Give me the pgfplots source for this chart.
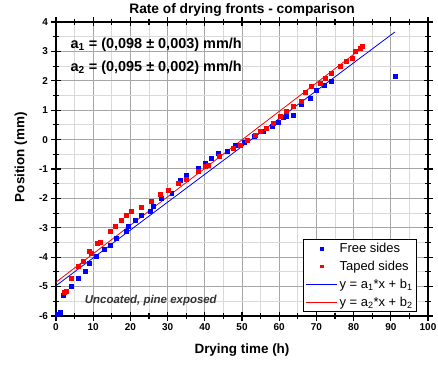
\documentclass[border=0pt]{standalone}
\usepackage{fontspec}
\setmainfont{Liberation Sans}
\usepackage{pgfplots}
\pgfplotsset{compat=1.18}
\pgfplotsset{
  markleg/.style={legend image code/.code={\draw[##1, mark size=1.2pt] plot coordinates {(0.55cm,0cm)};}},
  lineleg/.style={legend image code/.code={\draw[##1] (0cm,0cm) -- (1.1cm,0cm);}},
}
\pgfplotstableread{
x y
0.3 -5.95
1.0 -5.88
2.0 -5.30
4.2 -4.97
6.0 -4.72
7.8 -4.46
8.9 -4.20
10.8 -3.98
13.0 -3.72
14.5 -3.60
16.3 -3.35
18.8 -3.13
19.4 -2.96
21.2 -2.73
23.0 -2.56
25.3 -2.45
26.2 -2.26
28.4 -2.00
31.1 -1.83
33.3 -1.37
35.1 -1.20
38.3 -0.97
40.0 -0.80
41.8 -0.64
43.6 -0.47
45.9 -0.41
48.1 -0.20
50.6 -0.10
53.2 0.10
55.7 0.27
58.0 0.44
59.7 0.60
61.0 0.75
62.0 0.78
63.8 0.84
66.0 1.20
68.3 1.40
70.0 1.69
72.0 1.85
74.0 2.00
91.1 2.17
}\freesides
\pgfplotstableread{
x y
2.2 -5.20
2.8 -5.15
4.2 -4.72
5.9 -4.32
7.3 -4.15
8.9 -3.80
9.5 -3.88
11.0 -3.52
12.0 -3.50
14.5 -3.10
16.0 -2.95
17.5 -2.75
18.8 -2.56
20.3 -2.45
23.0 -2.29
25.7 -2.09
28.0 -1.85
30.2 -1.71
32.9 -1.49
35.1 -1.35
38.3 -1.06
40.0 -0.90
41.0 -0.86
44.0 -0.58
47.6 -0.30
49.5 -0.18
51.5 -0.01
53.5 0.16
54.8 0.27
56.6 0.40
58.4 0.55
60.2 0.78
62.0 0.95
63.7 1.12
66.0 1.29
67.0 1.60
68.7 1.80
71.0 1.91
72.3 2.08
74.1 2.25
76.3 2.48
78.1 2.65
79.5 2.76
80.4 2.99
81.7 3.10
82.2 3.16
}\tapedsides
\begin{document}
\begin{tikzpicture}
\begin{axis}[
  scale only axis, width=372bp, height=294bp,
  xmin=0, xmax=100, ymin=-6, ymax=4,
  xtick={0,10,...,100}, ytick={-6,-5,...,4},
  minor x tick num=1, minor y tick num=1,
  grid=both,
  major grid style={draw=gray!70, line width=1pt},
  minor grid style={draw=gray!30, line width=0.9pt},
  axis line style={line width=1.3pt},
  tick align=center,
  major tick length=9bp, minor tick length=6bp,
  major tick style={black, line width=1.3pt},
  minor tick style={black, line width=1.1pt},
  /pgf/number format/assume math mode=true,
  ticklabel style={font=\bfseries\fontsize{10}{12}\selectfont},
  title={Rate of drying fronts - comparison},
  title style={font=\bfseries\fontsize{13.8}{15}\selectfont, yshift=-4bp},
  xlabel={Drying time (h)},
  ylabel={Position (mm)},
  label style={font=\bfseries\fontsize{13.5}{15}\selectfont},
  xlabel style={yshift=-6bp},
  ylabel style={at={(ticklabel cs:0.54)}, yshift=5bp},
  legend style={at={(0.97,0.014)}, anchor=south east, draw=black, line width=0.5pt,
    fill=white, font=\fontsize{13}{14}\selectfont, row sep=3pt, inner sep=2pt},
  legend cell align=left,
]
\coordinate (bl) at (rel axis cs:0,0);
\coordinate (tr) at (rel axis cs:1,1);
\addplot[only marks, mark=square*, mark size=2pt, color=blue, markleg]
  table[x=x,y=y] {\freesides};
\addlegendentry{Free sides}
\addplot[only marks, mark=square*, mark size=2pt, color=red, markleg]
  table[x=x,y=y] {\tapedsides};
\addlegendentry{Taped sides}
\addplot[blue, line width=0.8pt, lineleg]
  coordinates {(0,-4.97) (91.1,3.66)};
\addlegendentry{y = a\textsubscript{1}*x + b\textsubscript{1}}
\addplot[red, line width=0.8pt, lineleg]
  coordinates {(0,-4.85) (82.2,3.11)};
\addlegendentry{y = a\textsubscript{2}*x + b\textsubscript{2}}
\node[anchor=west, font=\bfseries\fontsize{14.5}{16}\selectfont] at (axis cs:3,3.22)
  {a\textsubscript{1} = (0,098 ± 0,003) mm/h};
\node[anchor=west, font=\bfseries\fontsize{14.5}{16}\selectfont] at (axis cs:3,2.45)
  {a\textsubscript{2} = (0,095 ± 0,002) mm/h};
\node[font=\bfseries\itshape\fontsize{11.5}{13}\selectfont, text=black!80] at (axis cs:25.5,-5.49)
  {Uncoated, pine exposed};
\end{axis}
\pgfresetboundingbox
\path[use as bounding box] ([shift={(-56bp,-49bp)}]bl) rectangle ([shift={(10bp,22bp)}]tr);
\end{tikzpicture}
\end{document}
